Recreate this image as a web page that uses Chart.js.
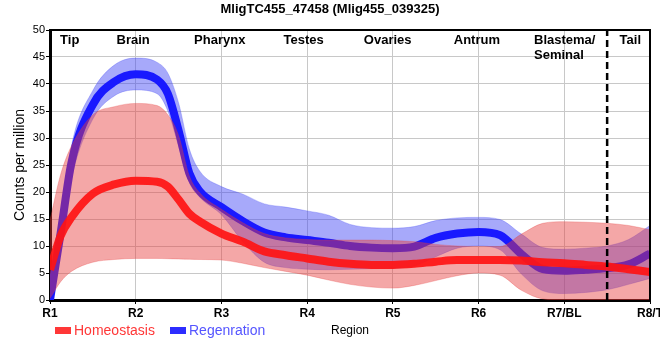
<!DOCTYPE html>
<html><head><meta charset="utf-8">
<script src="https://cdn.jsdelivr.net/npm/chart.js@4"></script>
<style>html,body{margin:0;padding:0;background:#fff}canvas{display:block}</style>
</head><body>
<canvas id="c" width="660" height="360"></canvas>
<script>
const chartTitle = 'MligTC455_47458 (Mlig455_039325)';
const regionTicks = ['R1','R2','R3','R4','R5','R6','R7/BL','R8/T'];
const regionNames = ['Tip','Brain','Pharynx','Testes','Ovaries','Antrum','Blastema/\nSeminal','Tail'];
const regionNamePos = [1.23, 1.97, 2.98, 3.96, 4.94, 5.98, 6.647, 7.77];
const regionAlign = ['center','center','center','center','center','center','left','center'];
const legendLabels = ['Homeostasis','Regenration'];
const boundaryX = 7.5;

const xPos =       [1,   1.125,1.25, 1.5, 1.75, 2,   2.25, 2.375, 2.5, 2.625, 2.75, 3,   3.25, 3.5, 3.75, 4,   4.25, 4.5, 4.75, 5,   5.25, 5.5, 5.75, 6,   6.25, 6.5, 6.75, 7,   7.25, 7.5, 7.75, 8];
const homeoMean =  [5.6, 11.9, 15.3, 19.7, 21.4, 22.1, 21.9, 21.0, 18.6, 16.0, 14.5, 12.3, 10.8, 9.0, 8.3, 7.7, 7.1, 6.7, 6.5, 6.5, 6.7, 7.1, 7.4, 7.4, 7.4, 7.3, 7.0, 6.8, 6.5, 6.2, 5.7, 5.2];
const homeoUpper = [14.8, 23.3, 28.5, 34.3, 35.8, 36.4, 36.0, 34.3, 30.5, 23.0, 19.8, 16.8, 14.3, 12.3, 11.5, 11.2, 11.1, 11.1, 11.1, 11.0, 10.8, 10.3, 10.0, 9.9, 9.9, 12.2, 14.2, 14.5, 14.4, 14.2, 13.8, 13.0];
const homeoLower = [0.3, 3.4, 5.3, 7.0, 7.5, 7.7, 7.7, 7.65, 7.6, 7.55, 7.5, 7.4, 6.8, 6.0, 5.3, 4.6, 3.7, 2.9, 2.4, 2.2, 2.7, 3.6, 4.5, 5.0, 4.6, 1.8, 0.2, 0, 0, 0, 0, 0];
const regenMean =  [0, 12.5, 25.4, 36.2, 40.4, 41.8, 40.8, 38.2, 31.4, 23.5, 20.1, 17.2, 14.6, 12.5, 11.6, 11.1, 10.6, 10.0, 9.7, 9.6, 9.9, 11.5, 12.3, 12.6, 12.0, 8.5, 5.7, 5.4, 5.6, 5.9, 6.6, 8.6];
const regenUpper = [0.8, 14.5, 28.5, 38.8, 43.5, 44.8, 44.0, 42.0, 36.5, 28.0, 23.8, 21.0, 19.6, 17.8, 17.2, 16.5, 15.7, 14.0, 13.4, 13.3, 13.6, 14.7, 15.2, 15.3, 14.9, 12.2, 9.7, 9.4, 9.6, 10.0, 11.2, 13.8];
const regenLower = [0, 10.5, 22.5, 33.5, 37.8, 38.9, 38.2, 35.0, 28.5, 21.8, 19.0, 15.8, 10.8, 7.0, 6.0, 5.7, 5.6, 5.7, 5.8, 5.9, 6.3, 8.0, 9.6, 10.0, 9.3, 4.8, 1.7, 1.2, 1.4, 1.9, 2.9, 4.0];

const FONT = '"Liberation Sans", Arial, sans-serif';
const pts = arr => xPos.map((x, i) => ({x: x, y: arr[i]}));
const common = {pointRadius: 0, pointHoverRadius: 0, cubicInterpolationMode: 'monotone', borderJoinStyle: 'round'};

const extras = {
  id: 'extras',
  afterDraw(chart) {
    const {ctx, chartArea: a, scales: {x}} = chart;
    ctx.save();
    ctx.strokeStyle = '#000'; ctx.lineWidth = 2;
    ctx.beginPath(); ctx.moveTo(a.left, a.top); ctx.lineTo(a.right, a.top); ctx.lineTo(a.right, a.bottom); ctx.stroke();
    ctx.fillStyle = '#000';
    ctx.font = 'bold 13px ' + FONT;
    ctx.textAlign = 'center'; ctx.textBaseline = 'alphabetic';
    ctx.fillText(chartTitle, 330, 12.5);
    regionNames.forEach((name, i) => {
      ctx.textAlign = regionAlign[i];
      name.split('\n').forEach((ln, j) => ctx.fillText(ln, x.getPixelForValue(regionNamePos[i]), 44 + j * 15));
    });
    ctx.textAlign = 'left';
    ctx.font = '14px ' + FONT;
    ctx.fillStyle = 'rgb(255,55,55)'; ctx.fillRect(55, 327, 16, 7);
    ctx.fillText(legendLabels[0], 74, 334.5);
    ctx.fillStyle = 'rgb(45,45,255)'; ctx.fillRect(170, 327, 16, 7);
    ctx.fillStyle = 'rgb(85,85,255)';
    ctx.fillText(legendLabels[1], 189, 334.5);
    ctx.restore();
  }
};

new Chart(document.getElementById('c'), {
  type: 'line',
  data: {
    datasets: [
      Object.assign({data: pts(regenUpper), borderWidth: 0.8, borderColor: 'rgba(60,65,245,0.35)', backgroundColor: 'rgba(60,65,245,0.45)', fill: '+1', order: 6}, common),
      Object.assign({data: pts(regenLower), borderWidth: 0.8, borderColor: 'rgba(60,65,245,0.35)', fill: false, order: 6}, common),
      Object.assign({data: pts(regenMean), borderWidth: 8, borderColor: 'rgb(25,25,255)', fill: false, order: 5}, common),
      Object.assign({data: pts(homeoUpper), borderWidth: 0.8, borderColor: 'rgba(230,60,60,0.35)', backgroundColor: 'rgba(230,60,60,0.45)', fill: '+1', order: 4}, common),
      Object.assign({data: pts(homeoLower), borderWidth: 0.8, borderColor: 'rgba(230,60,60,0.35)', fill: false, order: 4}, common),
      Object.assign({data: pts(homeoMean), borderWidth: 8, borderColor: 'rgba(255,20,20,0.92)', fill: false, order: 3}, common),
      {data: [{x: boundaryX, y: 0}, {x: boundaryX, y: 50}], borderDash: [7, 4], borderWidth: 2.5, borderColor: '#000', fill: false, pointRadius: 0, tension: 0, order: 0}
    ]
  },
  options: {
    responsive: false, animation: false, devicePixelRatio: 1,
    layout: {padding: {top: 30, right: 10, left: 0, bottom: 0}},
    plugins: {legend: {display: false}, tooltip: {enabled: false}, title: {display: false}},
    events: [],
    scales: {
      x: {
        type: 'linear', min: 1, max: 8,
        ticks: {stepSize: 1, autoSkip: false, maxRotation: 0, padding: 2, color: '#000',
          font: {family: FONT, size: 12, weight: 'bold'},
          callback: v => regionTicks[Math.round(v) - 1]},
        grid: {color: '#c8c8c8', lineWidth: 1, tickLength: 4, tickColor: '#000'},
        border: {display: true, color: '#000', width: 3},
        title: {display: true, text: 'Region', color: '#000', font: {family: FONT, size: 12}, padding: {top: 0, bottom: 22}},
        afterFit: s => { s.height = 60; s.paddingLeft = 0; s.paddingRight = 0; }
      },
      y: {
        min: 0, max: 50,
        ticks: {stepSize: 5, padding: 1, color: '#000', font: {family: FONT, size: 11}},
        grid: {color: '#c8c8c8', lineWidth: 1, tickLength: 4, tickColor: '#000'},
        border: {display: true, color: '#000', width: 3},
        title: {display: true, text: 'Counts per million', color: '#000', font: {family: FONT, size: 14}, padding: {top: 11.5, bottom: 0}},
        afterFit: s => { s.width = 50; s.paddingTop = 0; s.paddingBottom = 0; }
      }
    }
  },
  plugins: [extras]
});
</script>
</body></html>
